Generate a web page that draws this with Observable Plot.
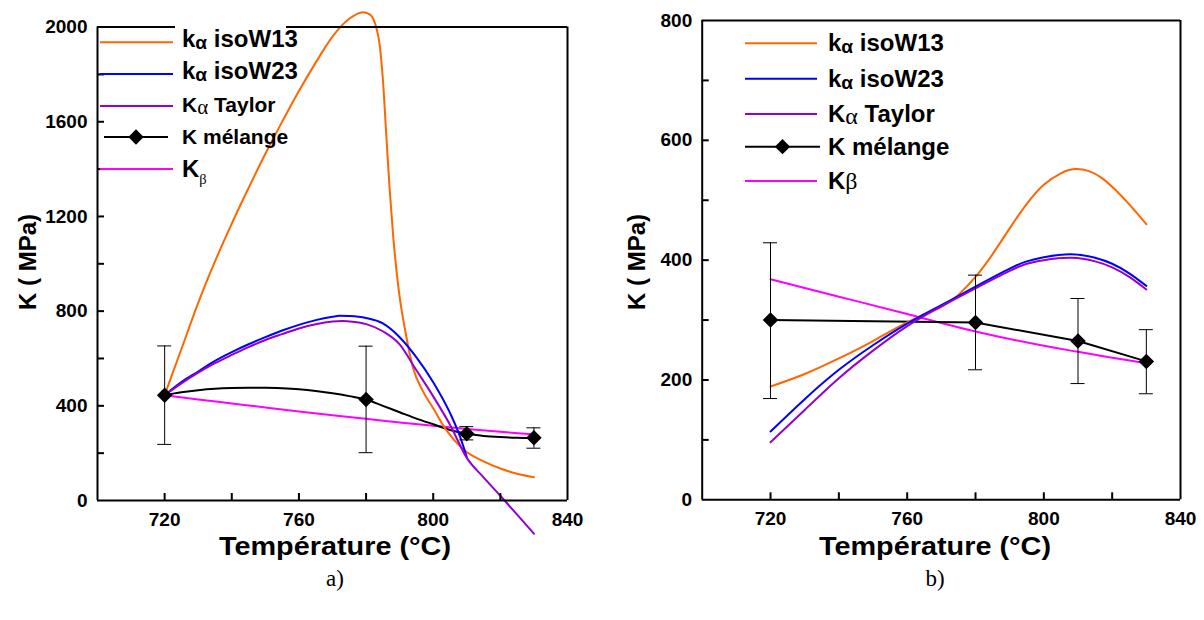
<!DOCTYPE html>
<html><head><meta charset="utf-8">
<script src="https://cdn.jsdelivr.net/npm/d3@7"></script>
<script src="https://cdn.jsdelivr.net/npm/@observablehq/plot@0.6"></script>
<style>
body{margin:0;background:#fff;}
#wrap{position:relative;width:1204px;height:620px;overflow:hidden;font-family:"Liberation Sans",Arial,sans-serif;}
.panel{position:absolute;top:0;}
#overlay{position:absolute;left:0;top:0;pointer-events:none;}
</style></head><body><div id="wrap"></div>
<script>
// ---------- Panel a) data ----------
const aW13T = [720,725,730,735,740,745,750,755,760,765,770,775,779,781,783,784,785,786,787,788,789,790,791.5,794,797,800,804,809,815,820,825,830];
const aW13K = [445,640,835,1010,1170,1320,1465,1600,1730,1850,1960,2035,2063,2055,2000,1930,1780,1550,1320,1130,980,860,730,560,460,390,295,215,165,135,113,98];
const aW23T = [720,725,730,735,740,745,750,755,760,765,770,772,775,780,785,790,795,800,805,808,810];
const aW23K = [445,500,545,590,627,660,690,718,742,762,776,780,779,771,748,690,605,500,370,270,183];
const aTayT = [720,725,730,735,740,745,750,755,760,765,770,773,776,780,785,790,795,800,805,810,815,820,825,830];
const aTayK = [445,495,540,580,615,648,678,703,727,745,756,758,755,745,715,660,550,440,320,180,98,20,-60,-140];
const aMelCurveT = [720,725,730,735,740,745,750,755,760,765,770,775,780,785,790,795,800,805,810,815,820,825,830];
const aMelCurveK = [445,457,466,472,475,476,476,474,470,463,453,441,427,400,373,346,322,298,282,273,268,265,264];
const aBetaT = [720,730,740,750,760,770,780,790,800,810,820,830];
const aBetaK = [445,427,410,393,376,360,345,330,316,302,290,279];
const aMelT = [720,780,810,830];
const aMelK = [445,427,282,265];
const aMelLo = [237,202,256,221];
const aMelHi = [653,652,312,307];

// ---------- Panel b) data ----------
const bW13T = [720,730,740,750,760,770,775,780,785,790,795,800,805,809,813,817,821,825,830];
const bW13K = [189,210,236,265,296,322,342,372,410,453,494,526,545,552,549,537,517,493,460];
const bW23T = [720,730,740,750,760,770,780,790,795,800,808,815,820,825,830];
const bW23K = [114,168,217,258,294,325,356,386,398,405,410,404,394,378,357];
const bTayT = [720,730,740,750,760,770,780,790,795,800,808,815,820,825,830];
const bTayK = [96,150,203,249,290,323,353,382,394,400,404,398,388,372,351];
const bBetaT = [720,740,760,780,800,810,820,830];
const bBetaK = [368,339,310,281,257,247,237,228];
const bMelT = [720,780,810,830];
const bMelK = [300,296,265,231];
const bMelLo = [169,217,194,177];
const bMelHi = [429,375,336,284];

// ---------- ticks / labels ----------
const xLabelTicks = [720,760,800,840];
const xMarkTicks = [720,740,760,780,800,820];
const aYLabelTicks = [0,400,800,1200,1600,2000];
const aYMarkTicks = [200,400,600,800,1000,1200,1400,1600,1800];
const bYLabelTicks = [0,200,400,600,800];
const bYMarkTicks = [100,200,300,400,500,600,700];
const seriesNames = ["kα isoW13","kα isoW23","Kα Taylor","K mélange","Kβ"];
const seriesColors = ["#ff6600","#0000ff","#9400d3","#000000","#ff00ff"];
const xTitle = "Température (°C)";
const yTitle = "K ( MPa)";
const captions = ["a)","b)"];

const zip = (T, K) => T.map((t, i) => ({t, k: K[i]}));

function makePanel(cfg) {
  const mel = cfg.melT.map((t, i) => ({t, k: cfg.melK[i], lo: cfg.melLo[i], hi: cfg.melHi[i]}));
  const xTickRows = xMarkTicks.map(v => ({v, base: cfg.yDomain[0]}));
  const yTickRows = cfg.yMarks.map(v => ({v, base: 700}));
  return Plot.plot({
    width: 602, height: 620,
    marginLeft: cfg.ml, marginRight: cfg.mr, marginTop: cfg.mt, marginBottom: cfg.mb,
    x: {domain: [700, 840], label: null},
    y: {domain: cfg.yDomain, label: null},
    style: {fontFamily: "'Liberation Sans', Arial, sans-serif", fontSize: "19px", fontWeight: "bold", background: "transparent", overflow: "visible"},
    marks: [
      Plot.axisX({ticks: xLabelTicks, tickSize: 0, tickPadding: 12, tickFormat: d3.format("d"), label: null}),
      Plot.axisY({ticks: cfg.yLabels, tickSize: 0, tickPadding: 10, tickFormat: d3.format("d"), label: null}),
      Plot.line(zip(cfg.betaT, cfg.betaK), {x: "t", y: "k", stroke: seriesColors[4], strokeWidth: 2, curve: cfg.curve}),
      Plot.line(zip(cfg.melCurveT, cfg.melCurveK), {x: "t", y: "k", stroke: seriesColors[3], strokeWidth: 2, curve: cfg.melCurve}),
      Plot.line(zip(cfg.w13T, cfg.w13K), {x: "t", y: "k", stroke: seriesColors[0], strokeWidth: 2, curve: cfg.curve}),
      Plot.line(zip(cfg.w23T, cfg.w23K), {x: "t", y: "k", stroke: seriesColors[1], strokeWidth: 2, curve: cfg.curve}),
      Plot.line(zip(cfg.tayT, cfg.tayK), {x: "t", y: "k", stroke: seriesColors[2], strokeWidth: 2, curve: cfg.curve}),
      Plot.ruleX(mel, {x: "t", y1: "lo", y2: "hi", stroke: "#000", strokeWidth: 1}),
      Plot.ruleY(mel, {y: "lo", x1: "t", x2: "t", insetLeft: -7, insetRight: -7, stroke: "#000", strokeWidth: 1}),
      Plot.ruleY(mel, {y: "hi", x1: "t", x2: "t", insetLeft: -7, insetRight: -7, stroke: "#000", strokeWidth: 1}),
      Plot.dot(mel, {x: "t", y: "k", symbol: "diamond2", r: 7, fill: "#000", stroke: null}),
      // frame
      Plot.ruleX([700, 840], {stroke: "#000", strokeWidth: 2}),
      Plot.ruleY(cfg.yDomain, {stroke: "#000", strokeWidth: 2}),
      // inward tick marks (7 px)
      Plot.ruleX(xTickRows, {x: "v", y1: "base", y2: "base", insetTop: -7, stroke: "#000", strokeWidth: 2}),
      Plot.ruleY(yTickRows, {y: "v", x1: "base", x2: "base", insetRight: -7, stroke: "#000", strokeWidth: 2})
    ]
  });
}

const wrap = document.getElementById("wrap");
const pa = makePanel({
  ml: 97, mr: 35, mt: 26.6, mb: 120, yDomain: [0, 2000], yLabels: aYLabelTicks, yMarks: aYMarkTicks,
  w13T: aW13T, w13K: aW13K, w23T: aW23T, w23K: aW23K, tayT: aTayT, tayK: aTayK,
  melCurveT: aMelCurveT, melCurveK: aMelCurveK, melCurve: "monotone-x", curve: "monotone-x",
  betaT: aBetaT, betaK: aBetaK, melT: aMelT, melK: aMelK, melLo: aMelLo, melHi: aMelHi
});
pa.classList.add("panel"); pa.style.left = "0px";
wrap.appendChild(pa);
const pb = makePanel({
  ml: 99.7, mr: 24, mt: 20, mb: 120.7, yDomain: [0, 800], yLabels: bYLabelTicks, yMarks: bYMarkTicks,
  w13T: bW13T, w13K: bW13K, w23T: bW23T, w23K: bW23K, tayT: bTayT, tayK: bTayK,
  melCurveT: bMelT, melCurveK: bMelK, melCurve: "linear", curve: "natural",
  betaT: bBetaT, betaK: bBetaK, melT: bMelT, melK: bMelK, melLo: bMelLo, melHi: bMelHi
});
pb.classList.add("panel"); pb.style.left = "602px";
wrap.appendChild(pb);

// ---------- overlay: titles, legends, captions ----------
const svg = d3.select(wrap).append("svg").attr("id", "overlay").attr("width", 1204).attr("height", 620)
  .style("font-family", "'Liberation Sans', Arial, sans-serif");

// gap in the top frame of panel a (legend box)
svg.append("rect").attr("x", 175).attr("y", 23).attr("width", 111).attr("height", 7).attr("fill", "#fff");

function axisTitles(cx, ylx, yly) {
  svg.append("text").attr("x", cx).attr("y", 555).attr("text-anchor", "middle")
    .attr("font-size", 26).attr("font-weight", "bold")
    .attr("textLength", 232).attr("lengthAdjust", "spacingAndGlyphs").text(xTitle);
  svg.append("text").attr("transform", `translate(${ylx},${yly}) rotate(-90)`).attr("text-anchor", "middle")
    .attr("font-size", 24).attr("font-weight", "bold").text(yTitle);
}
axisTitles(335, 36, 262);
axisTitles(935, 645, 262);
svg.append("text").attr("x", 335).attr("y", 586).attr("text-anchor", "middle")
  .attr("font-family", "'Liberation Serif', 'Times New Roman', serif").attr("font-size", 23).text(captions[0]);
svg.append("text").attr("x", 935).attr("y", 586).attr("text-anchor", "middle")
  .attr("font-family", "'Liberation Serif', 'Times New Roman', serif").attr("font-size", 23).text(captions[1]);

function legend(cfg) {
  cfg.rows.forEach((ry, i) => {
    const g = svg.append("g");
    const isMel = i === 3;
    const x1 = isMel ? cfg.melX1 : cfg.x1, x2 = isMel ? cfg.melX2 : cfg.x2;
    g.append("line").attr("x1", x1).attr("x2", x2).attr("y1", ry).attr("y2", ry)
      .attr("stroke", seriesColors[i]).attr("stroke-width", 2);
    if (isMel) {
      const cx = (x1 + x2) / 2;
      g.append("path").attr("d", d3.symbol(d3.symbolDiamond2, 150)()).attr("transform", `translate(${cx},${ry})`).attr("fill", "#000");
    }
    const fs = cfg.sizes[i];
    const t = g.append("text").attr("x", cfg.tx).attr("y", ry + cfg.base[i]).attr("font-weight", "bold").attr("font-size", fs);
    const name = seriesNames[i];
    if (i === 0 || i === 1) {
      t.append("tspan").text(name[0]);
      t.append("tspan").attr("font-size", fs * 0.8).attr("dy", 2).text(name[1]);
      t.append("tspan").attr("dy", -2).text(name.slice(2));
    } else if (i === 2) {
      t.append("tspan").text(name[0]);
      t.append("tspan").attr("font-family", "'Liberation Serif', serif").attr("font-weight", "normal").attr("dy", 2).text(name[1]);
      t.append("tspan").attr("dy", -2).text(name.slice(2));
    } else if (i === 4) {
      t.append("tspan").text(name[0]);
      if (cfg.betaSub) {
        t.append("tspan").attr("font-family", "'Liberation Serif', serif").attr("font-weight", "normal").attr("font-size", fs * 0.6).attr("dy", 7).text(name[1]);
      } else {
        t.append("tspan").attr("font-family", "'Liberation Serif', serif").attr("font-weight", "normal").text(name[1]);
      }
    } else {
      t.text(name);
    }
  });
}
legend({rows: [42.3, 74, 106, 137, 169], x1: 100, x2: 173, melX1: 104, melX2: 168, tx: 182,
  sizes: [24, 24, 21, 21, 24], base: [5, 5, 6, 7, 8], betaSub: true});
legend({rows: [43.3, 78.7, 114, 146.7, 181], x1: 745, x2: 817, melX1: 745, melX2: 820, tx: 828,
  sizes: [24, 24, 24, 24, 24], base: [8, 8, 8, 8, 8], betaSub: false});
</script></body></html>
